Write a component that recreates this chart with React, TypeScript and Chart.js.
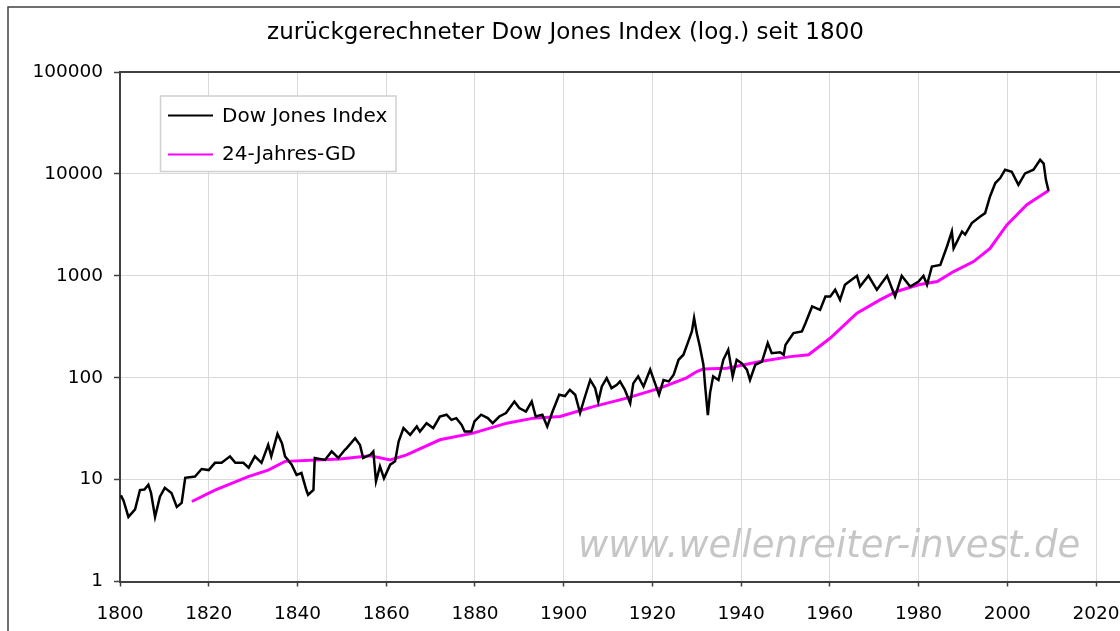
import React, { useEffect, useRef } from "react";
import { Chart, registerables } from "chart.js";

Chart.register(...registerables);

const TITLE = "zurückgerechneter Dow Jones Index (log.) seit 1800";
const WATERMARK = "www.wellenreiter-invest.de";
const SERIES_LABELS = ["Dow Jones Index", "24-Jahres-GD"];
const X_TICKS = [1800, 1820, 1840, 1860, 1880, 1900, 1920, 1940, 1960, 1980, 2000, 2020];
const Y_TICKS = [1, 10, 100, 1000, 10000, 100000];

const djYears = [
  1800.2, 1800.8, 1801.9, 1803.4, 1804.5, 1805.5, 1806.4, 1807.0, 1807.9, 1809.0,
  1810.1, 1811.6, 1812.8, 1813.9, 1814.7, 1816.9, 1818.4, 1820.0, 1821.4, 1822.9,
  1824.8, 1826.0, 1827.8, 1829.0, 1830.4, 1831.9, 1833.4, 1834.1, 1835.5, 1836.5,
  1837.2, 1838.7, 1839.8, 1840.9, 1842.0, 1842.4, 1843.6, 1843.9, 1846.2, 1847.7,
  1849.2, 1850.7, 1851.1, 1853.0, 1854.1, 1854.8, 1856.4, 1857.1, 1857.7, 1858.6,
  1859.5, 1860.9, 1862.0, 1862.8, 1863.9, 1865.4, 1866.9, 1867.6, 1869.1, 1870.6,
  1872.1, 1873.6, 1874.7, 1875.8, 1877.0, 1877.7, 1879.2, 1879.9, 1881.4, 1882.9,
  1884.0, 1885.5, 1887.0, 1888.9, 1890.0, 1891.5, 1892.8, 1893.7, 1895.2, 1896.3,
  1897.5, 1899.0, 1900.3, 1901.4, 1902.6, 1903.7, 1904.8, 1906.0, 1907.1, 1907.8,
  1908.6, 1909.7, 1910.8, 1912.0, 1912.7, 1913.8, 1915.0, 1915.7, 1916.8, 1918.0,
  1919.5, 1920.6, 1921.5, 1922.5, 1923.7, 1924.8, 1925.9, 1927.0, 1928.1, 1928.9,
  1929.4, 1930.0, 1930.7, 1931.5, 1931.9, 1932.5, 1933.0, 1933.7, 1934.9, 1936.0,
  1937.1, 1938.1, 1939.0, 1940.1, 1941.3, 1942.0, 1943.2, 1944.7, 1946.0, 1946.9,
  1948.8, 1949.6, 1950.0, 1950.9, 1951.8, 1953.7, 1954.5, 1956.0, 1957.8, 1959.0,
  1960.1, 1961.2, 1962.3, 1963.4, 1964.9, 1966.1, 1966.8, 1968.7, 1970.6, 1972.9,
  1974.7, 1976.2, 1978.1, 1980.0, 1981.1, 1981.9, 1983.0, 1984.9, 1986.4, 1987.5,
  1987.9, 1989.8, 1990.5, 1992.0, 1993.9, 1995.0, 1996.1, 1997.3, 1998.4, 1999.5,
  2001.0, 2002.5, 2004.0, 2005.9, 2007.4, 2008.2, 2008.7, 2009.3,
];

const djValues = [
  7.0, 6.2, 4.3, 5.1, 7.9, 8.0, 8.9, 7.4, 4.3, 6.8,
  8.3, 7.4, 5.4, 5.9, 10.4, 10.7, 12.7, 12.4, 14.6, 14.6,
  16.9, 14.6, 14.6, 13.1, 16.9, 14.6, 21.9, 16.9, 28.1, 22.8,
  16.9, 14.0, 11.1, 11.6, 7.9, 7.1, 7.9, 16.3, 15.6, 18.9,
  16.3, 19.6, 20.4, 25.5, 21.9, 16.3, 17.5, 18.9, 9.6, 13.5,
  10.3, 14.0, 15.1, 23.6, 32, 27.5, 33.2, 29.6, 35.8, 32,
  41.6, 43.3, 38.6, 40.1, 34.5, 29.6, 29.6, 37.2, 43.3, 40.1,
  35.8, 41.6, 45, 58.4, 50.3, 46.6, 58.4, 41.6, 43.3, 33.2,
  46.6, 68, 66, 76, 68, 45, 65, 95, 79, 58.4,
  82, 99, 79, 85, 92, 76, 56, 88, 103, 82,
  120, 88, 68, 95, 92, 107, 150, 168, 227, 284,
  385, 274, 202, 134, 82, 43, 71, 103, 95, 150,
  188, 103, 150, 139, 120, 95, 134, 144, 219, 174,
  178, 168, 210, 240, 274, 284, 343, 500, 463, 626,
  626, 729, 580, 816, 915, 1000, 785, 1000, 729, 1000,
  626, 1000, 785, 879, 1000, 816, 1233, 1280, 1940, 2720,
  1860, 2720, 2540, 3290, 3820, 4120, 6000, 8130, 9100, 11000,
  10500, 7820, 10100, 11000, 13750, 12600, 8750, 6800,
];

const gdYears = [
  1816.2, 1821.4, 1828.9, 1833.4, 1837.2, 1849.6, 1856.4, 1860.9, 1864.6, 1872.1,
  1879.6, 1887.2, 1893.2, 1899.2, 1906.7, 1914.2, 1921.7, 1927.7, 1930.0, 1931.5,
  1936.8, 1944.3, 1951.1, 1955.2, 1960.1, 1966.1, 1971.3, 1975.0, 1980.0, 1984.2,
  1987.9, 1992.4, 1996.1, 1999.9, 2004.4, 2009.3,
];

const gdValues = [
  6.1, 7.9, 10.7, 12.4, 15.1, 15.9, 17.1, 15.6, 17.5, 24.6,
  28.6, 35.8, 40.1, 41.6, 52, 63, 79, 99.7, 115, 122,
  124, 144, 161, 168, 245, 430, 580, 701, 816, 879,
  1100, 1380, 1860, 3160, 4980, 6870,
];

const FONT = "DejaVu Sans";
const AXIS_COLOR = "#404040";
const GRID_COLOR = "#d9d9d9";
const SERIES_COLORS = ["#000000", "#ff00ff"];

const decorPlugin = {
  id: "decor",
  beforeDraw(chart: any) {
    const { ctx, width, height } = chart;
    ctx.save();
    ctx.fillStyle = "#ffffff";
    ctx.fillRect(0, 0, width, height);
    ctx.strokeStyle = AXIS_COLOR;
    ctx.lineWidth = 1.5;
    ctx.strokeRect(8, 7, 3000, 3000);
    ctx.fillStyle = "#000000";
    ctx.font = `23px "${FONT}"`;
    ctx.textAlign = "center";
    ctx.textBaseline = "alphabetic";
    ctx.fillText(TITLE, 565.5, 38.5);
    ctx.restore();
  },
  beforeDatasetsDraw(chart: any) {
    const { ctx } = chart;
    ctx.save();
    ctx.fillStyle = "#c6c6c6";
    ctx.font = `italic 37px "${FONT}"`;
    ctx.textAlign = "left";
    ctx.textBaseline = "alphabetic";
    ctx.fillText(WATERMARK, 578, 557, 522);
    ctx.restore();
  },
  afterDraw(chart: any) {
    const { ctx, chartArea } = chart;
    ctx.save();
    ctx.strokeStyle = AXIS_COLOR;
    ctx.lineWidth = 2;
    ctx.beginPath();
    ctx.moveTo(chartArea.left, chartArea.top);
    ctx.lineTo(chartArea.right + 5, chartArea.top);
    ctx.stroke();
    ctx.fillStyle = "#ffffff";
    ctx.fillRect(160.5, 96, 235.5, 75.5);
    ctx.strokeStyle = "#d0d0d0";
    ctx.lineWidth = 1.5;
    ctx.strokeRect(160.5, 96, 235.5, 75.5);
    const rows = [115.5, 154.5];
    const bases = [121.5, 160];
    ctx.font = `20px "${FONT}"`;
    ctx.textAlign = "left";
    ctx.textBaseline = "alphabetic";
    SERIES_LABELS.forEach((label, i) => {
      ctx.strokeStyle = SERIES_COLORS[i];
      ctx.lineWidth = 2;
      ctx.beginPath();
      ctx.moveTo(168, rows[i]);
      ctx.lineTo(213, rows[i]);
      ctx.stroke();
      ctx.fillStyle = "#000000";
      ctx.fillText(label, 222, bases[i]);
    });
    ctx.restore();
  },
};

export default function App() {
  const canvasRef = useRef<HTMLCanvasElement | null>(null);

  useEffect(() => {
    const canvas = canvasRef.current;
    if (!canvas) return;
    const chart = new Chart(canvas, {
      type: "line",
      data: {
        datasets: [
          {
            label: SERIES_LABELS[0],
            data: djYears.map((x, i) => ({ x, y: djValues[i] })),
            borderColor: SERIES_COLORS[0],
            backgroundColor: SERIES_COLORS[0],
            borderWidth: 2.5,
            pointRadius: 0,
            tension: 0,
            fill: false,
          },
          {
            label: SERIES_LABELS[1],
            data: gdYears.map((x, i) => ({ x, y: gdValues[i] })),
            borderColor: SERIES_COLORS[1],
            backgroundColor: SERIES_COLORS[1],
            borderWidth: 3,
            pointRadius: 0,
            tension: 0,
            fill: false,
          },
        ],
      },
      options: {
        responsive: false,
        animation: false,
        devicePixelRatio: 1,
        layout: { padding: { top: 72, left: 0, right: 0, bottom: 0 } },
        plugins: {
          legend: { display: false },
          title: { display: false },
          tooltip: { enabled: false },
        },
        scales: {
          x: {
            type: "linear",
            min: 1800,
            max: 2025.4,
            afterBuildTicks: (s: any) => {
              s.ticks = X_TICKS.map((v) => ({ value: v }));
            },
            afterFit: (s: any) => {
              s.height = 49.5;
              s.paddingLeft = 0;
              s.paddingRight = 0;
            },
            ticks: {
              callback: (v: any) => String(v),
              font: { family: FONT, size: 18.5 },
              color: "#000000",
              padding: 17,
              maxRotation: 0,
              autoSkip: false,
            },
            grid: {
              color: GRID_COLOR,
              lineWidth: 1,
              tickLength: 5,
              tickColor: AXIS_COLOR,
              tickWidth: 1.5,
            },
            border: { display: true, color: AXIS_COLOR, width: 2 },
          },
          y: {
            type: "logarithmic",
            min: 1,
            max: 100000,
            afterBuildTicks: (s: any) => {
              s.ticks = Y_TICKS.map((v) => ({ value: v }));
            },
            afterFit: (s: any) => {
              s.width = 120;
              s.paddingTop = 0;
              s.paddingBottom = 0;
            },
            ticks: {
              callback: (v: any) => String(v),
              font: { family: FONT, size: 18.5 },
              color: "#000000",
              padding: 11,
              autoSkip: false,
            },
            grid: {
              color: GRID_COLOR,
              lineWidth: 1,
              tickLength: 6,
              tickColor: AXIS_COLOR,
              tickWidth: 1.5,
            },
            border: { display: true, color: AXIS_COLOR, width: 2 },
          },
        },
      },
      plugins: [decorPlugin],
    } as any);
    return () => chart.destroy();
  }, []);

  return (
    <div style={{ position: "absolute", left: 0, top: 0, width: 1120, height: 631, overflow: "hidden" }}>
      <canvas ref={canvasRef} width={1120} height={631} style={{ display: "block" }} />
    </div>
  );
}
